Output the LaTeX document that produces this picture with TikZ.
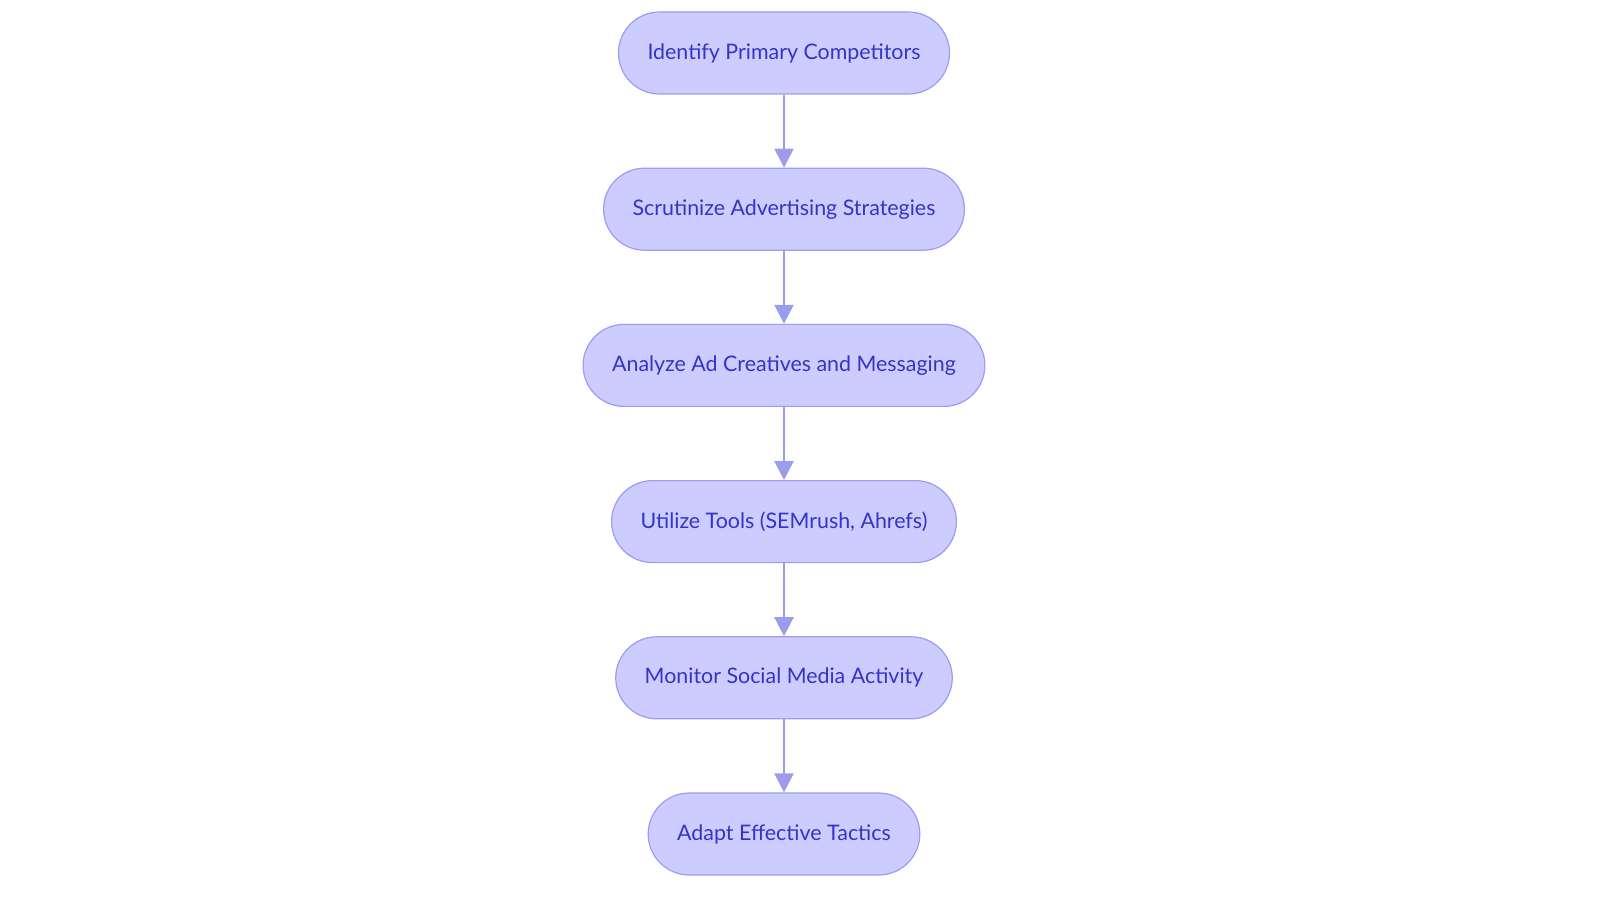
\documentclass[tikz,border=0pt]{standalone}
\usepackage{fontspec}
\setmainfont{Lato}
\usetikzlibrary{positioning,arrows.meta}
\definecolor{boxfill}{HTML}{CCCCFF}
\definecolor{boxline}{HTML}{9C9CF0}
\definecolor{boxtext}{HTML}{3434C8}
\definecolor{arrowcol}{HTML}{9A9CEC}
\begin{document}
\begin{tikzpicture}[
    stepbox/.style={draw=boxline, fill=boxfill, text=boxtext, line width=0.6pt,
        rounded corners=20.5pt, minimum height=41pt, inner xsep=14.5pt,
        font=\fontsize{10.7pt}{12pt}\selectfont},
    flow/.style={->, >={Triangle[width=9.5pt,length=9.5pt]}, draw=arrowcol, line width=1.2pt}
]
        \useasboundingbox (0,0) rectangle (800pt,-451.5pt);

        \node[stepbox] (identify) at (392pt,-26.5pt) {Identify Primary Competitors};
        \node[stepbox, below=36.5pt of identify] (scrutinize) {Scrutinize Advertising Strategies};
        \node[stepbox, below=36.5pt of scrutinize] (analyze) {Analyze Ad Creatives and Messaging};
        \node[stepbox, below=36.5pt of analyze] (utilize) {Utilize Tools (SEMrush, Ahrefs)};
        \node[stepbox, below=36.5pt of utilize] (monitor) {Monitor Social Media Activity};
        \node[stepbox, below=36.5pt of monitor] (adapt) {Adapt Effective Tactics};

        \draw[flow] (identify) -- (scrutinize);
        \draw[flow] (scrutinize) -- (analyze);
        \draw[flow] (analyze) -- (utilize);
        \draw[flow] (utilize) -- (monitor);
        \draw[flow] (monitor) -- (adapt);

    \end{tikzpicture}
\end{document}
